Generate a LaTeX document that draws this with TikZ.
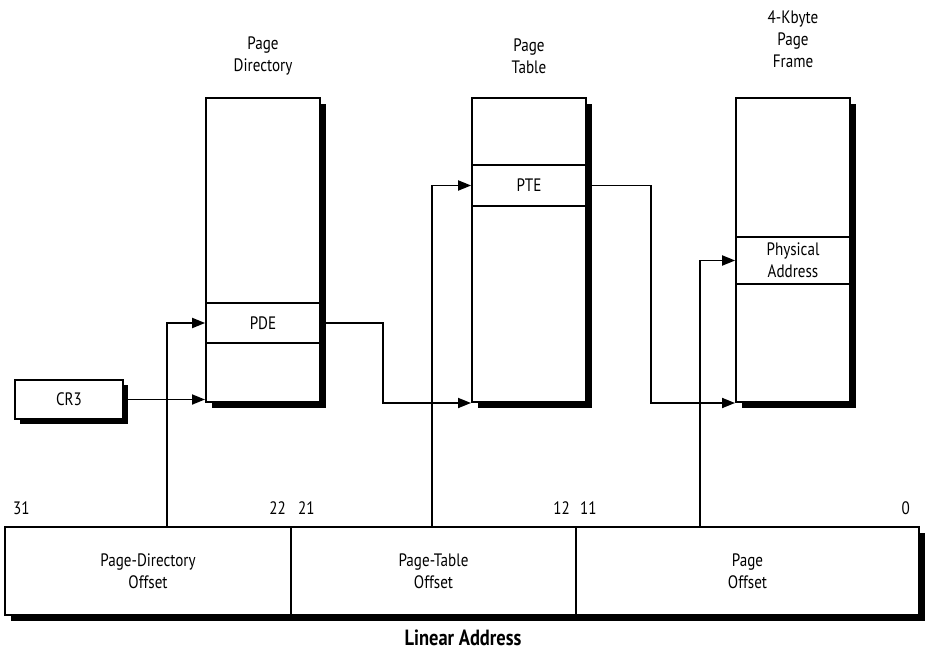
\documentclass[tikz,border=0pt]{standalone}
\usepackage{fontspec}
\setmainfont{PT Sans}[FakeStretch=0.84]
\usetikzlibrary{arrows.meta,shadows,positioning}

\tikzset{
  txt/.style={font=\fontsize{18}{22}\selectfont, align=center},
  membox/.style={draw, line width=2pt, fill=white, minimum width=114pt,
    minimum height=304pt, inner sep=0pt,
    drop shadow={shadow xshift=6pt, shadow yshift=-6pt, opacity=1, fill=black}},
  slot/.style={txt, draw, line width=1.7pt, minimum width=114pt, inner sep=0pt},
  field/.style={txt, draw, line width=2pt, fill=white, minimum height=88pt,
    inner sep=0pt,
    drop shadow={shadow xshift=6pt, shadow yshift=-6pt, opacity=1, fill=black}},
  bitno/.style={txt, inner sep=0pt},
  arr/.style={line width=1.8pt, -{Triangle[length=13pt, width=10pt]}}
}

\begin{document}
\begin{tikzpicture}[x=1pt, y=-1pt]
  \useasboundingbox (0,0) rectangle (925,652);

  % tables
  \node[membox] (dir) at (263,250) {};
  \node[membox] (tbl) at (529,250) {};
  \node[membox] (pfr) at (793,250) {};
  \node[slot, minimum height=40pt] (pde) at (263,323) {PDE};
  \node[slot, minimum height=41pt] (pte) at (529,185.5) {PTE};
  \node[slot, minimum height=47pt] (phys) at (793,260.5) {Physical\\Address};

  \node[txt] (dirlbl) at (263,56) {Page\\Directory};
  \node[txt] (tbllbl) at (529,56) {Page\\Table};
  \node[txt] (pfrlbl) at (793,39) {4-Kbyte\\Page\\Frame};

  \node[txt, draw, line width=2pt, fill=white, minimum width=108pt,
    minimum height=39pt, inner sep=0pt,
    drop shadow={shadow xshift=5pt, shadow yshift=-5pt, opacity=1, fill=black}]
    (cr3) at (69,399.5) {CR3};

  % linear address
  \node[field, minimum width=286pt] (pdoff) at (148,571) {Page-Directory\\Offset};
  \node[field, minimum width=285pt] (ptoff) at (433.5,571) {Page-Table\\Offset};
  \node[field, minimum width=343pt] (poff) at (747.5,571) {Page\\Offset};
  \node[inner sep=0pt, font=\fontsize{22}{24}\selectfont\bfseries] (lin) at (463,638) {Linear Address};

  \node[bitno, anchor=west] (b31) at (13,508) {31};
  \node[bitno, anchor=east] (b22) at (286,508) {22};
  \node[bitno, anchor=west] (b21) at (298,508) {21};
  \node[bitno, anchor=east] (b12) at (570,508) {12};
  \node[bitno, anchor=west] (b11) at (580,508) {11};
  \node[bitno, anchor=east] (b0) at (910,508) {0};

  \coordinate (pdtap) at (167,527);
  \coordinate (pttap) at (432,527);
  \coordinate (potap) at (700,527);

  % connectors
  \draw[arr] (cr3.east) -- (cr3.east -| dir.west);
  \draw[arr] (pdtap) |- (pde.west);
  \draw[arr] (pde.east) -| (383,350) |- (tbl.south west);
  \draw[arr] (pttap) |- (pte.west);
  \draw[arr] (pte.east) -| (651,350) |- (pfr.south west);
  \draw[arr] (potap) |- (phys.west);
\end{tikzpicture}
\end{document}
